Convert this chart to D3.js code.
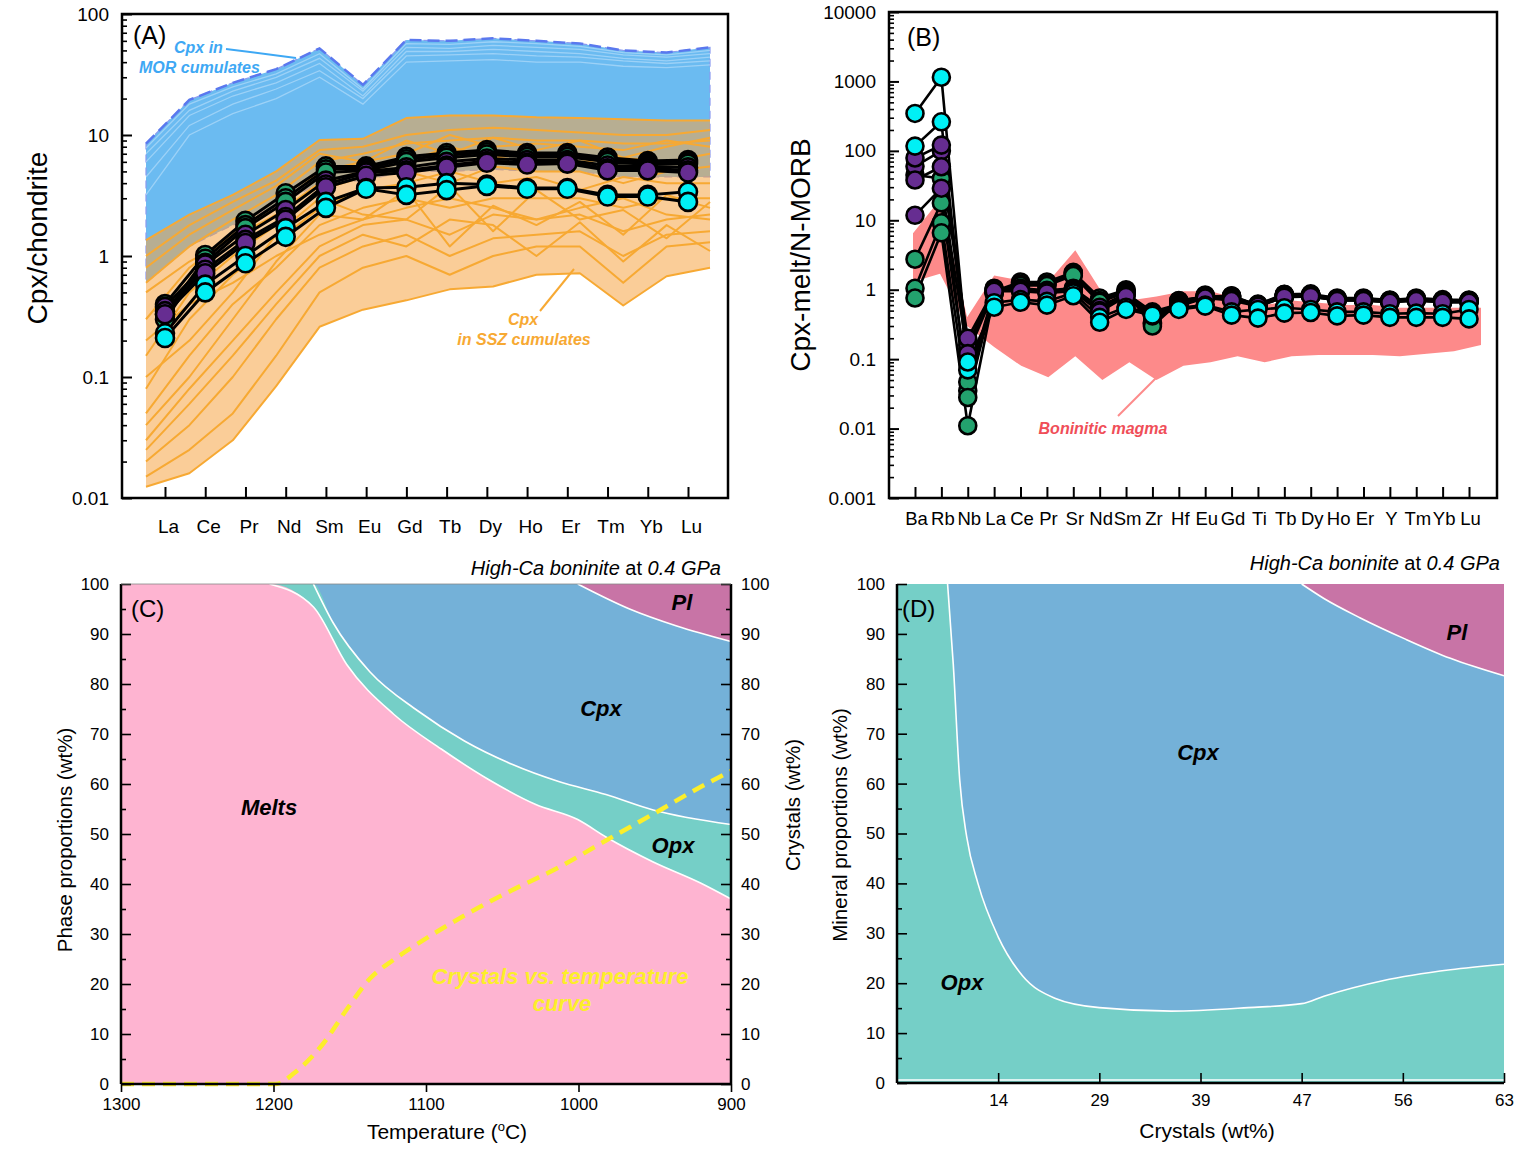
<!DOCTYPE html>
<html><head><meta charset="utf-8">
<script src="https://cdn.jsdelivr.net/npm/d3@7"></script>
<style>
body{margin:0;background:#fff}
svg{display:block}
text{font-family:"Liberation Sans",Arial,sans-serif}
</style>
</head><body>
<svg id="c" width="1526" height="1160"></svg>
<script>
// ---------------- DATA ----------------
// Panel A: REE / chondrite
const ree = ["La","Ce","Pr","Nd","Sm","Eu","Gd","Tb","Dy","Ho","Er","Tm","Yb","Lu"];
const morUpper = [8.5,19.5,27,35,52,26,61,60,63,60,57,50,48,53];
const morLower = [0.6,1.2,1.8,2.6,4.0,4.2,5.0,5.0,5.2,5.0,5.0,4.5,4.5,4.5];
const morLine1 = [7.8,18,25,32,47,24,57,56,59,57,54,48,46,50];
const morLine2 = [7.0,16,23,30,43,23,53,52,55,53,51,46,44,47];
const morLine3 = [6.0,14.5,21,27,39,21,49,49,51,49,47,43,41,44];
const morLine4 = [4.5,12,18,24,34,20,45,46,47,45,44,41,39,41];
const morLine5 = [3.2,10,15,20,30,18,40,41,42,40,40,37,36,38];
const sszUpper = [1.35,2.2,3.2,5.0,9.1,9.3,13.8,14.5,14.5,14,13.8,13.5,13.2,13.2];
const sszLower = [0.0124,0.016,0.030,0.084,0.26,0.36,0.43,0.53,0.56,0.70,0.72,0.39,0.68,0.80];
const sszLine1 = [1.0,1.8,2.8,4.2,7.5,8,10,11,11.5,11,10.5,10,10,11];
const sszLine2 = [0.6,1.2,2.0,3.2,6,7,8.5,9,9.5,9,9,8.5,8.5,9];
const sszLine3 = [0.3,0.8,1.5,2.5,5,6,7,10,8,8.5,8,7.5,9,8];
const sszLine4 = [0.15,0.5,1.0,1.8,3.5,4.5,5,4,5.5,5,5,4,5,5.5];
const sszLine5 = [0.08,0.3,0.7,1.3,2.5,3.5,4,5,4,4.5,3.5,4.5,4,4];
const sszLine6 = [0.05,0.15,0.4,0.8,1.8,2.5,3,2.5,3,3,3,2.5,3,3];
const sszLine7 = [0.03,0.08,0.2,0.5,1.2,1.8,2,1.5,2.2,2,2.2,1.6,2,2.2];
const sszLine8 = [0.02,0.04,0.1,0.3,0.8,1.2,1.5,1.0,1.4,1.5,1.6,1.0,1.5,1.6];
const sszLine9 = [0.015,0.025,0.05,0.15,0.5,0.8,1.0,0.7,1.0,1.2,1.2,0.6,1.2,1.3];
const sszLine10 = [0.2,0.4,0.6,1.0,1.5,2,2.5,3,2.5,2,2.5,3,2.2,2];
const sszLine11 = [0.5,0.9,1.4,2.2,4,5,6,8,6.5,7,6,6.5,6,7];
const sszLine12 = [0.04,0.1,0.3,0.9,2.2,2.0,3.5,1.2,2.6,1.8,2.8,1.5,3.2,2.5];
const sszLine13 = [0.1,0.2,0.5,1.5,3.0,2.2,2.0,3.8,1.6,3.5,2.0,2.4,1.4,2.8];
const sszLine14 = [0.025,0.06,0.15,0.4,1.0,1.5,1.2,2.0,1.8,1.0,1.9,0.9,1.8,1.1];
const sszLine15 = [0.8,1.5,2.4,3.8,7,6,9,7,9.5,7.5,9,6.5,8,9.5];
const aGreen1 = [0.40,1.02,1.95,3.3,5.5,5.5,6.6,7.1,7.5,7.1,7.1,6.5,6.1,6.2];
const aGreen2 = [0.33,0.95,1.8,3.0,5.2,5.3,6.3,6.8,7.2,6.9,6.9,6.2,5.9,6.0];
const aGreen3 = [0.30,0.88,1.7,2.8,4.9,5.1,6.0,6.5,6.9,6.6,6.6,6.0,5.7,5.8];
const aPurple1 = [0.38,0.85,1.5,2.4,4.2,5.0,5.4,6.0,6.4,6.2,6.2,5.6,5.5,5.4];
const aPurple2 = [0.35,0.77,1.36,2.1,3.9,4.9,5.1,5.6,6.1,5.9,6.0,5.3,5.3,5.1];
const aPurple3 = [0.33,0.72,1.28,2.0,3.7,4.6,4.9,5.4,5.9,5.7,5.8,5.1,5.1,4.9];
const aCyan1 = [0.23,0.58,1.0,1.7,2.8,3.65,3.7,4.0,3.9,3.65,3.65,3.2,3.2,3.4];
const aCyan2 = [0.21,0.50,0.87,1.44,2.5,3.6,3.2,3.5,3.8,3.6,3.6,3.1,3.1,2.8];
const aTicks = [0.01,0.1,1,10,100];

// Panel B: Cpx-melt / N-MORB
const spider = ["Ba","Rb","Nb","La","Ce","Pr","Sr","Nd","Sm","Zr","Hf","Eu","Gd","Ti","Tb","Dy","Ho","Er","Y","Tm","Yb","Lu"];
const boninUpper = [6.5,20,0.4,1.6,1.35,1.3,3.7,0.9,0.7,0.8,0.95,0.95,0.75,0.6,0.7,0.65,0.6,0.6,0.55,0.55,0.55,0.55];
const boninLower = [1.3,1.7,0.3,0.15,0.08,0.055,0.11,0.05,0.09,0.05,0.08,0.09,0.11,0.09,0.11,0.115,0.115,0.115,0.11,0.12,0.13,0.16];
const bGreen1 = [2.75,17.8,0.047,0.95,1.29,1.29,1.78,0.76,1.0,0.34,0.7,0.8,0.82,0.6,0.85,0.85,0.74,0.74,0.7,0.74,0.7,0.7];
const bGreen2 = [1.05,9.2,0.028,0.9,1.2,1.2,1.7,0.7,0.95,0.32,0.68,0.78,0.8,0.58,0.82,0.82,0.72,0.72,0.68,0.72,0.68,0.68];
const bGreen3 = [0.76,6.6,0.011,0.88,1.15,1.15,1.6,0.66,0.92,0.3,0.66,0.75,0.78,0.56,0.8,0.8,0.7,0.7,0.66,0.7,0.66,0.66];
const bGreen4 = [45,40,0.035,0.92,1.25,1.22,1.72,0.72,0.97,0.33,0.69,0.79,0.81,0.59,0.83,0.83,0.73,0.73,0.69,0.73,0.69,0.69];
const bPurple1 = [79,121,0.16,1.05,1.05,0.98,1.05,0.56,0.89,0.48,0.62,0.84,0.76,0.62,0.86,0.87,0.76,0.76,0.71,0.76,0.72,0.71];
const bPurple2 = [38,59,0.2,1.0,1.0,0.95,1.0,0.5,0.85,0.45,0.6,0.8,0.72,0.6,0.82,0.83,0.72,0.72,0.68,0.72,0.69,0.68];
const bPurple3 = [11.8,29,0.12,0.95,0.95,0.9,0.95,0.48,0.8,0.42,0.58,0.76,0.7,0.58,0.78,0.8,0.7,0.7,0.66,0.7,0.66,0.66];
const bPurple4 = [60,100,0.14,1.02,1.02,0.96,1.02,0.53,0.87,0.46,0.61,0.82,0.74,0.61,0.84,0.85,0.74,0.74,0.7,0.74,0.7,0.7];
const bCyan1 = [346,1150,0.091,0.56,0.66,0.6,0.82,0.34,0.52,0.43,0.52,0.58,0.43,0.39,0.46,0.47,0.42,0.43,0.40,0.40,0.40,0.38];
const bCyan2 = [117,262,0.07,0.65,0.72,0.68,0.9,0.4,0.56,0.45,0.55,0.6,0.48,0.52,0.55,0.52,0.48,0.48,0.45,0.46,0.45,0.52];
const bTicks = [0.001,0.01,0.1,1,10,100,1000,10000];

// Panel C: phase proportions vs temperature
const meltT   = [1300,1202.6,1173.8,1152,1121,1090,1059,1028,1000.5,982,951,920,900];
const meltPct = [100,100,95.4,83.9,73.9,67.0,60.9,55.9,52.9,49.4,44.4,40.2,37.0];
const opxTopT   = [1300,1202.6,1173.8,1161,1136.7,1105.7,1074.8,1044,1013,982,951,900];
const opxTopPct = [100,100,100,92.3,82.4,74.7,68.6,64.0,60.5,57.9,54.8,51.9];
const plBotT   = [1000.5,966.5,935.6,900];
const plBotPct = [100,95.0,91.6,88.5];
const crystT   = [1300,1198.5,1186,1167.6,1152,1136.7,1121,1105.7,1074.8,1044,1013,982,951,920,900];
const crystPct = [0,0,2.3,8.0,14.9,21.1,24.9,28.0,33.7,38.7,43.3,48.7,54.0,59.4,62.6];
const tempTicks = [1300,1200,1100,1000,900];
const pctTicks = [0,10,20,30,40,50,60,70,80,90,100];

// Panel D: mineral proportions vs crystals
const crystalLabels = ["14","29","39","47","56","63"];
const dOpxX   = [0,0.5,0.556,0.62,0.69,0.8,1.0,1.24,1.56,2.0,2.71,3.47,4.0,4.22,4.8,5.47,6.0];
const dOpxPct = [100,100,84,60.7,49.2,40,29.3,21.5,17,15.1,14.4,15.1,15.9,17.4,20.5,22.7,23.8];
const dPlX   = [4.0,4.22,4.58,5.02,5.47,6.0];
const dPlPct = [100,97.1,93.2,89.0,85.1,81.6];

// ---------------- DRAW ----------------
const svg = d3.select("#c");
svg.append("rect").attr("width",1526).attr("height",1160).attr("fill","#fff");

const GREEN="#23a26e", PURPLE="#662d91", CYAN="#00f0f5";

function logMinors(lo, hi){
  const out=[]; for(let e=lo;e<hi;e++){for(let k=2;k<=9;k++) out.push(k*Math.pow(10,e));} return out;
}
function fmtNum(d){ return d>=1 ? d3.format("d")(d) : String(+d.toPrecision(1)); }

function logPanel(o){
  const g = svg.append("g");
  const y = d3.scaleLog().domain(o.yDomain).range([o.b,o.t]);
  const x = d3.scalePoint().domain(o.cats).range(o.ptRange);
  const xf = d3.scalePoint().domain(o.cats).range(o.fieldRange);
  return {g,x,y,xf};
}

function drawSamples(g, x, y, cats, groups, r, lw){
  const line = d3.line().x((d,i)=>x(cats[i])).y(d=>y(d));
  groups.forEach(gr=>{
    gr.series.forEach(s=>{
      g.append("path").attr("d",line(s)).attr("fill","none").attr("stroke","#000").attr("stroke-width",lw).attr("stroke-linejoin","round");
    });
  });
  groups.forEach(gr=>{
    gr.series.forEach(s=>{
      g.selectAll(null).data(s).enter().append("circle")
        .attr("cx",(d,i)=>x(cats[i])).attr("cy",d=>y(d)).attr("r",r)
        .attr("fill",gr.color).attr("stroke","#000").attr("stroke-width",2.6);
    });
  });
}

function logAxes(g, x, y, box, ticks, minorLo, minorHi, xPad, fsY, fsX, dxLab){
  g.append("g").attr("transform",`translate(${box.l},0)`)
    .call(d3.axisLeft(y).tickValues(logMinors(minorLo,minorHi)).tickSizeInner(-5).tickSizeOuter(0).tickFormat(""))
    .call(s=>s.select(".domain").remove())
    .call(s=>s.selectAll("line").attr("stroke-width",1.6));
  g.append("g").attr("transform",`translate(${box.l},0)`)
    .call(d3.axisLeft(y).tickValues(ticks).tickSizeInner(-10).tickSizeOuter(0).tickPadding(13).tickFormat(fmtNum))
    .call(s=>s.select(".domain").remove())
    .call(s=>s.selectAll("text").attr("font-size",fsY).attr("fill","#000"))
    .call(s=>s.selectAll("line").attr("stroke-width",2));
  g.append("g").attr("transform",`translate(0,${box.b})`)
    .call(d3.axisBottom(x).tickSizeInner(-11).tickSizeOuter(0).tickPadding(xPad))
    .call(s=>s.select(".domain").remove())
    .call(s=>s.selectAll("text").attr("font-size",fsX).attr("fill","#000").attr("dx",dxLab))
    .call(s=>s.selectAll("line").attr("stroke-width",2));
  g.append("rect").attr("x",box.l).attr("y",box.t).attr("width",box.r-box.l).attr("height",box.b-box.t)
    .attr("fill","none").attr("stroke","#000").attr("stroke-width",2.5);
}

// ===== Panel A =====
{
  const box={l:122,r:728,t:14,b:498};
  const {g,x,y,xf} = logPanel({yDomain:[0.01,100],t:box.t,b:box.b,cats:ree,ptRange:[165,688],fieldRange:[146,710]});
  const area = d3.area().x((d,i)=>xf(ree[i])).y0(d=>y(d[0])).y1(d=>y(d[1]));
  const fl = d3.line().x((d,i)=>xf(ree[i])).y(d=>y(d));
  // MOR field
  g.append("path").attr("d",area(ree.map((c,i)=>[morLower[i],morUpper[i]]))).attr("fill","#6bbbf1")
    .attr("stroke","#8a9af0").attr("stroke-width",1.2).attr("stroke-dasharray","8,5");
  [morLine1,morLine2,morLine3,morLine4,morLine5].forEach(s=>{
    g.append("path").attr("d",fl(s)).attr("fill","none").attr("stroke","#c4e3fb").attr("stroke-width",1.3).attr("opacity",0.55);
  });
  g.append("path").attr("d",fl(morUpper)).attr("fill","none").attr("stroke","#5a78ee").attr("stroke-width",2.5).attr("stroke-dasharray","12,6");
  // SSZ field
  g.append("path").attr("d",area(ree.map((c,i)=>[sszLower[i],sszUpper[i]]))).attr("fill","#f5a443").attr("fill-opacity",0.55);
  [sszUpper,sszLower,sszLine1,sszLine2,sszLine3,sszLine4,sszLine5,sszLine6,sszLine7,sszLine8,sszLine9,sszLine10,sszLine11,sszLine12,sszLine13,sszLine14,sszLine15].forEach(s=>{
    g.append("path").attr("d",fl(s)).attr("fill","none").attr("stroke","#f7a933").attr("stroke-width",2).attr("stroke-linejoin","round");
  });
  drawSamples(g,x,y,ree,[
    {color:GREEN,series:[aGreen1,aGreen2,aGreen3]},
    {color:PURPLE,series:[aPurple1,aPurple2,aPurple3]},
    {color:CYAN,series:[aCyan1,aCyan2]}],9,3);
  logAxes(g,x,y,box,aTicks,-2,2,22,19,19,3);
  g.append("text").attr("x",133).attr("y",44).attr("font-size",25).text("(A)");
  g.append("text").attr("x",174).attr("y",53).attr("font-size",16).attr("font-weight","bold").attr("font-style","italic").attr("fill","#3ea8f4").text("Cpx in");
  g.append("text").attr("x",139).attr("y",73).attr("font-size",16).attr("font-weight","bold").attr("font-style","italic").attr("fill","#3ea8f4").text("MOR cumulates");
  g.append("line").attr("x1",226).attr("y1",49).attr("x2",296).attr("y2",58).attr("stroke","#3ea8f4").attr("stroke-width",2);
  g.append("text").attr("x",523).attr("y",325).attr("text-anchor","middle").attr("font-size",16).attr("font-weight","bold").attr("font-style","italic").attr("fill","#f7a933").text("Cpx");
  g.append("text").attr("x",524).attr("y",345).attr("text-anchor","middle").attr("font-size",16).attr("font-weight","bold").attr("font-style","italic").attr("fill","#f7a933").text("in SSZ cumulates");
  g.append("line").attr("x1",540).attr("y1",311).attr("x2",574).attr("y2",269).attr("stroke","#f7a933").attr("stroke-width",2);
  g.append("text").attr("transform","translate(47,238) rotate(-90)").attr("text-anchor","middle").attr("font-size",28).text("Cpx/chondrite");
}

// ===== Panel B =====
{
  const box={l:889,r:1497,t:12,b:498};
  const {g,x,y,xf} = logPanel({yDomain:[0.001,10000],t:box.t,b:box.b,cats:spider,ptRange:[915,1469],fieldRange:[913,1481]});
  const area = d3.area().x((d,i)=>xf(spider[i])).y0(d=>y(d[0])).y1(d=>y(d[1]));
  g.append("path").attr("d",area(spider.map((c,i)=>[boninLower[i],boninUpper[i]]))).attr("fill","#fd8a8a");
  drawSamples(g,x,y,spider,[
    {color:GREEN,series:[bGreen4,bGreen1,bGreen2,bGreen3]},
    {color:PURPLE,series:[bPurple4,bPurple1,bPurple2,bPurple3]},
    {color:CYAN,series:[bCyan2,bCyan1]}],8.5,2.6);
  logAxes(g,x,y,box,bTicks,-3,4,14,19,18.5,1);
  g.append("text").attr("x",907).attr("y",46).attr("font-size",25).text("(B)");
  g.append("text").attr("x",1103).attr("y",434).attr("text-anchor","middle").attr("font-size",16).attr("font-weight","bold").attr("font-style","italic").attr("fill","#f04e58").text("Boninitic magma");
  g.append("line").attr("x1",1118).attr("y1",416).attr("x2",1157).attr("y2",377).attr("stroke","#fd8a8a").attr("stroke-width",2);
  g.append("text").attr("transform","translate(810,255) rotate(-90)").attr("text-anchor","middle").attr("font-size",28).text("Cpx-melt/N-MORB");
}

function linAxisStyle(s, fs){
  s.select(".domain").remove();
  s.selectAll("text").attr("font-size",fs).attr("fill","#000");
  s.selectAll("line").attr("stroke-width",1.6);
}
function titleLine(g, xr, y){
  const t = g.append("text").attr("x",xr).attr("y",y).attr("text-anchor","end").attr("font-size",20);
  t.append("tspan").attr("font-style","italic").text("High-Ca boninite");
  t.append("tspan").text(" at ");
  t.append("tspan").attr("font-style","italic").text("0.4 GPa");
}
const C_MELT="#feb4d1", C_OPX="#75cfc7", C_CPX="#74b1d8", C_PL="#c874a6";

// ===== Panel C =====
{
  const box={l:121,r:731,t:584,b:1084};
  const g = svg.append("g");
  const x = d3.scaleLinear().domain([1300,900]).range([box.l,box.r]);
  const y = d3.scaleLinear().domain([0,100]).range([box.b,box.t]);
  const cv = d3.curveMonotoneX;
  g.append("rect").attr("x",box.l).attr("y",box.t).attr("width",box.r-box.l).attr("height",box.b-box.t).attr("fill",C_CPX);
  const top = d3.area().curve(cv).x(d=>x(d[0])).y0(y(0)).y1(d=>y(d[1]));
  const ln = d3.line().curve(cv).x(d=>x(d[0])).y(d=>y(d[1]));
  const opx = opxTopT.map((t,i)=>[t,opxTopPct[i]]);
  const melt = meltT.map((t,i)=>[t,meltPct[i]]);
  const pl = plBotT.map((t,i)=>[t,plBotPct[i]]);
  g.append("path").attr("d",top(opx)).attr("fill",C_OPX);
  g.append("path").attr("d",top(melt)).attr("fill",C_MELT);
  g.append("path").attr("d",d3.area().curve(cv).x(d=>x(d[0])).y0(y(100)).y1(d=>y(d[1]))(pl)).attr("fill",C_PL);
  [opx.slice(2),melt.slice(1),pl].forEach(p=>g.append("path").attr("d",ln(p)).attr("fill","none").attr("stroke","#fff").attr("stroke-width",1.6));
  g.append("path").attr("d",ln(crystT.map((t,i)=>[t,crystPct[i]]))).attr("fill","none")
    .attr("stroke","#fcee2a").attr("stroke-width",4.5).attr("stroke-dasharray","13,8");
  // axes
  g.append("g").attr("transform",`translate(${box.l},0)`)
    .call(d3.axisLeft(y).tickValues(d3.range(5,100,10)).tickSizeInner(-5).tickSizeOuter(0).tickFormat("")).call(s=>linAxisStyle(s,17));
  g.append("g").attr("transform",`translate(${box.l},0)`)
    .call(d3.axisLeft(y).tickValues(pctTicks).tickSizeInner(-10).tickSizeOuter(0).tickPadding(12)).call(s=>linAxisStyle(s,17));
  g.append("g").attr("transform",`translate(${box.r},0)`)
    .call(d3.axisRight(y).tickValues(d3.range(5,100,10)).tickSizeInner(-5).tickSizeOuter(0).tickFormat("")).call(s=>linAxisStyle(s,17));
  g.append("g").attr("transform",`translate(${box.r},0)`)
    .call(d3.axisRight(y).tickValues(pctTicks).tickSizeInner(-10).tickSizeOuter(0).tickPadding(10)).call(s=>linAxisStyle(s,17));
  g.append("g").attr("transform",`translate(0,${box.b})`)
    .call(d3.axisBottom(x).tickValues(tempTicks).tickSizeInner(8).tickSizeOuter(0).tickPadding(6).tickFormat(d3.format("d"))).call(s=>linAxisStyle(s,17));
  g.append("line").attr("x1",box.l).attr("x2",box.l).attr("y1",box.t).attr("y2",box.b).attr("stroke","#000").attr("stroke-width",2.5);
  g.append("line").attr("x1",box.r).attr("x2",box.r).attr("y1",box.t).attr("y2",box.b).attr("stroke","#000").attr("stroke-width",2.5);
  g.append("line").attr("x1",box.l).attr("x2",box.r).attr("y1",box.b).attr("y2",box.b).attr("stroke","#000").attr("stroke-width",2.5);
  g.append("line").attr("x1",box.l).attr("x2",box.r).attr("y1",box.t).attr("y2",box.t).attr("stroke","#888").attr("stroke-width",0.8);
  titleLine(g,721,575);
  g.append("text").attr("x",131).attr("y",617).attr("font-size",24).text("(C)");
  const lab=(t,px,py,col,fs)=>g.append("text").attr("x",px).attr("y",py).attr("text-anchor","middle").attr("font-size",fs||22)
     .attr("font-weight","bold").attr("font-style","italic").attr("fill",col||"#000").text(t);
  lab("Melts",269,815); lab("Cpx",601,716); lab("Opx",673,853); lab("Pl",682,610);
  lab("Crystals vs. temperature",560,984,"#fcee2a",22); lab("curve",562,1011,"#fcee2a",22);
  g.append("text").attr("transform","translate(72,840) rotate(-90)").attr("text-anchor","middle").attr("font-size",20.5).text("Phase proportions (wt%)");
  g.append("text").attr("transform","translate(800,805) rotate(-90)").attr("text-anchor","middle").attr("font-size",20.5).text("Crystals (wt%)");
  const xl = g.append("text").attr("x",447).attr("y",1139).attr("text-anchor","middle").attr("font-size",21);
  xl.append("tspan").text("Temperature (");
  xl.append("tspan").attr("font-size",13).attr("dy",-8).text("o");
  xl.append("tspan").attr("dy",8).text("C)");
}

// ===== Panel D =====
{
  const box={l:897,r:1504,t:584,b:1083};
  const g = svg.append("g");
  const x = d3.scaleLinear().domain([0,6]).range([box.l,box.r]);
  const y = d3.scaleLinear().domain([0,100]).range([box.b,box.t]);
  const cv = d3.curveMonotoneX;
  g.append("rect").attr("x",box.l).attr("y",box.t).attr("width",box.r-box.l).attr("height",box.b-box.t).attr("fill",C_CPX);
  const opx = dOpxX.map((v,i)=>[v,dOpxPct[i]]);
  const pl = dPlX.map((v,i)=>[v,dPlPct[i]]);
  g.append("path").attr("d",d3.area().curve(cv).x(d=>x(d[0])).y0(y(0)).y1(d=>y(d[1]))(opx)).attr("fill",C_OPX);
  g.append("path").attr("d",d3.area().curve(cv).x(d=>x(d[0])).y0(y(100)).y1(d=>y(d[1]))(pl)).attr("fill",C_PL);
  const ln = d3.line().curve(cv).x(d=>x(d[0])).y(d=>y(d[1]));
  [opx.slice(1),pl].forEach(p=>g.append("path").attr("d",ln(p)).attr("fill","none").attr("stroke","#fff").attr("stroke-width",1.6));
  g.append("line").attr("x1",box.l).attr("x2",box.r).attr("y1",box.b-3).attr("y2",box.b-3).attr("stroke","#fff").attr("stroke-width",1.5);
  g.append("g").attr("transform",`translate(${box.l},0)`)
    .call(d3.axisLeft(y).tickValues(d3.range(5,100,10)).tickSizeInner(-5).tickSizeOuter(0).tickFormat("")).call(s=>linAxisStyle(s,17));
  g.append("g").attr("transform",`translate(${box.l},0)`)
    .call(d3.axisLeft(y).tickValues(pctTicks).tickSizeInner(-10).tickSizeOuter(0).tickPadding(12)).call(s=>linAxisStyle(s,17));
  g.append("g").attr("transform",`translate(0,${box.b})`)
    .call(d3.axisBottom(x).tickValues(d3.range(1,7)).tickSizeInner(-10).tickSizeOuter(0).tickPadding(11).tickFormat(d=>crystalLabels[d-1])).call(s=>linAxisStyle(s,17));
  g.append("line").attr("x1",box.l).attr("x2",box.l).attr("y1",box.t).attr("y2",box.b).attr("stroke","#000").attr("stroke-width",2.5);
  g.append("line").attr("x1",box.l).attr("x2",box.r).attr("y1",box.b).attr("y2",box.b).attr("stroke","#000").attr("stroke-width",2.5);
  titleLine(g,1500,570);
  g.append("text").attr("x",902).attr("y",617).attr("font-size",24).text("(D)");
  const lab=(t,px,py)=>g.append("text").attr("x",px).attr("y",py).attr("text-anchor","middle").attr("font-size",22)
     .attr("font-weight","bold").attr("font-style","italic").attr("fill","#000").text(t);
  lab("Cpx",1198,760); lab("Pl",1457,640); lab("Opx",962,990);
  g.append("text").attr("transform","translate(847,825) rotate(-90)").attr("text-anchor","middle").attr("font-size",20.5).text("Mineral proportions (wt%)");
  g.append("text").attr("x",1207).attr("y",1138).attr("text-anchor","middle").attr("font-size",21).text("Crystals (wt%)");
}
</script>
</body></html>
